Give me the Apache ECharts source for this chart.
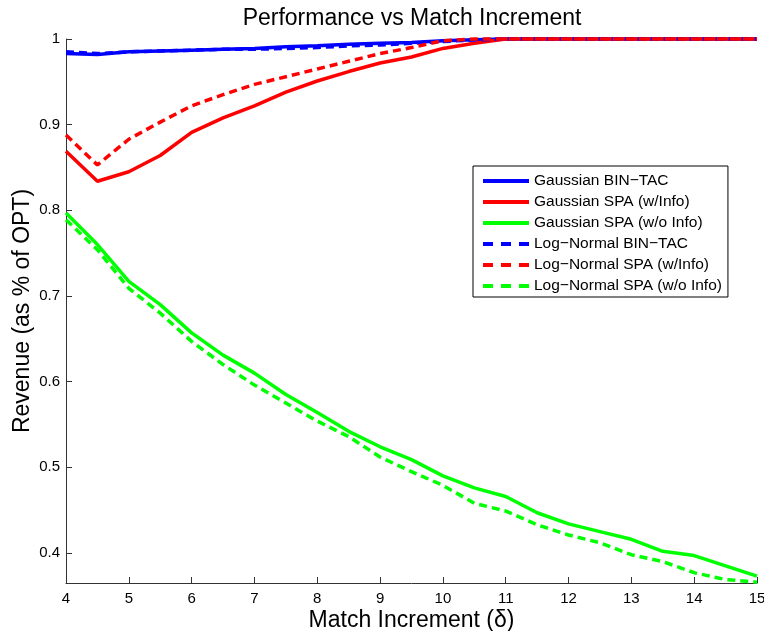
<!DOCTYPE html>
<html>
<head>
<meta charset="utf-8">
<script src="https://cdn.jsdelivr.net/npm/echarts@6/dist/echarts.min.js"></script>
<style>
html, body { margin: 0; padding: 0; background: #fff; }
#chart { width: 764px; height: 631px; }
</style>
</head>
<body>
<div id="chart"></div>
<script>
var delta = [4, 4.5, 5, 5.5, 6, 6.5, 7, 7.5, 8, 8.5, 9, 9.5, 10, 10.5, 11, 11.5, 12, 12.5, 13, 13.5, 14, 14.5, 15];

var gauss_bintac = [0.983, 0.982, 0.985, 0.986, 0.987, 0.988, 0.989, 0.991, 0.992, 0.994, 0.995, 0.996, 0.998, 0.999, 1, 1, 1, 1, 1, 1, 1, 1, 1];
var gauss_spa_info = [0.869, 0.834, 0.845, 0.864, 0.891, 0.908, 0.922, 0.938, 0.951, 0.962, 0.972, 0.979, 0.989, 0.995, 1, 1, 1, 1, 1, 1, 1, 1, 1];
var gauss_spa_noinfo = [0.797, 0.760, 0.717, 0.690, 0.657, 0.631, 0.610, 0.585, 0.564, 0.542, 0.524, 0.509, 0.490, 0.476, 0.466, 0.447, 0.434, 0.425, 0.416, 0.402, 0.397, 0.385, 0.373];
var logn_bintac = [0.985, 0.983, 0.985, 0.986, 0.987, 0.988, 0.988, 0.989, 0.990, 0.992, 0.993, 0.995, 0.997, 0.999, 1, 1, 1, 1, 1, 1, 1, 1, 1];
var logn_spa_info = [0.888, 0.853, 0.883, 0.903, 0.922, 0.935, 0.947, 0.956, 0.965, 0.974, 0.983, 0.990, 0.998, 1, 1, 1, 1, 1, 1, 1, 1, 1, 1];
var logn_spa_noinfo = [0.789, 0.754, 0.709, 0.680, 0.647, 0.620, 0.596, 0.575, 0.554, 0.536, 0.512, 0.495, 0.479, 0.458, 0.449, 0.433, 0.421, 0.412, 0.398, 0.390, 0.377, 0.369, 0.366];

var names = ['Gaussian BIN\u2212TAC', 'Gaussian SPA (w/Info)', 'Gaussian SPA (w/o Info)',
             'Log\u2212Normal BIN\u2212TAC', 'Log\u2212Normal SPA (w/Info)', 'Log\u2212Normal SPA (w/o Info)'];

var myChart = echarts.init(document.getElementById('chart'));

function pairs(ys) {
    return delta.map(function (x, i) { return [x, ys[i]]; });
}

function mkSeries(name, ys, color, dashed) {
    return {
        name: name,
        type: 'line',
        data: pairs(ys),
        symbol: 'none',
        showSymbol: false,
        clip: false,
        animation: false,
        lineStyle: { color: color, width: 3.5, type: dashed ? [8, 5] : 'solid' },
        itemStyle: { color: color }
    };
}

var font = 'Liberation Sans, Arial, Helvetica, sans-serif';
var axisLineStyle = { color: '#333', width: 1 };

// legend dashes are a bit longer than in the plot
var legendData = names.map(function (n, i) {
    return i < 3 ? { name: n } : { name: n, lineStyle: { type: [10, 8] } };
});

option = {
    backgroundColor: '#fff',
    textStyle: { fontFamily: font },
    title: {
        text: 'Performance vs Match Increment',
        left: 407, top: 2, textAlign: 'center',
        textStyle: { fontSize: 23, fontWeight: 'normal', color: '#000', fontFamily: font }
    },
    legend: {
        data: legendData,
        orient: 'vertical',
        left: 473, top: 166,
        itemWidth: 46, itemHeight: 14, itemGap: 5,
        padding: [7, 6, 3, 8],
        borderColor: '#000', borderWidth: 1,
        backgroundColor: '#fff',
        itemStyle: { opacity: 0 },
        lineStyle: { width: 4 },
        textStyle: { fontSize: 15.5, color: '#000', fontFamily: font }
    },
    grid: { left: 66, right: 7, top: 39, bottom: 48, containLabel: false, outerBoundsMode: 'none' },
    xAxis: {
        type: 'value',
        min: 4, max: 15, interval: 1,
        name: 'Match Increment (\u03b4)',
        nameLocation: 'middle', nameGap: 26, nameMoveOverlap: false,
        nameTextStyle: { fontSize: 23, color: '#000', fontFamily: font },
        axisLine: { lineStyle: axisLineStyle },
        axisTick: { inside: true, length: 6, lineStyle: axisLineStyle },
        axisLabel: { fontSize: 15, color: '#000', margin: 8, fontFamily: font },
        splitLine: { show: false }
    },
    yAxis: {
        type: 'value',
        min: 0.365, max: 1, splitNumber: 6,
        name: 'Revenue (as % of OPT)',
        nameLocation: 'middle', nameGap: 32, nameMoveOverlap: false,
        nameTextStyle: { fontSize: 23, color: '#000', fontFamily: font },
        axisLine: { show: true, lineStyle: axisLineStyle },
        axisTick: { inside: true, length: 6, lineStyle: axisLineStyle },
        axisLabel: {
            fontSize: 15, color: '#000', margin: 6, fontFamily: font,
            showMinLabel: false,
            formatter: function (v) {
                var r = Math.round(v * 10) / 10;
                if (Math.abs(r - v) > 1e-6) return '';
                return r === 1 ? '1' : r.toFixed(1);
            }
        },
        splitLine: { show: false }
    },
    series: [
        mkSeries(names[0], gauss_bintac, '#0000ff', false),
        mkSeries(names[1], gauss_spa_info, '#ff0000', false),
        mkSeries(names[2], gauss_spa_noinfo, '#00ff00', false),
        mkSeries(names[3], logn_bintac, '#0000ff', true),
        mkSeries(names[4], logn_spa_info, '#ff0000', true),
        mkSeries(names[5], logn_spa_noinfo, '#00ff00', true)
    ]
};

myChart.setOption(option);
</script>
</body>
</html>
